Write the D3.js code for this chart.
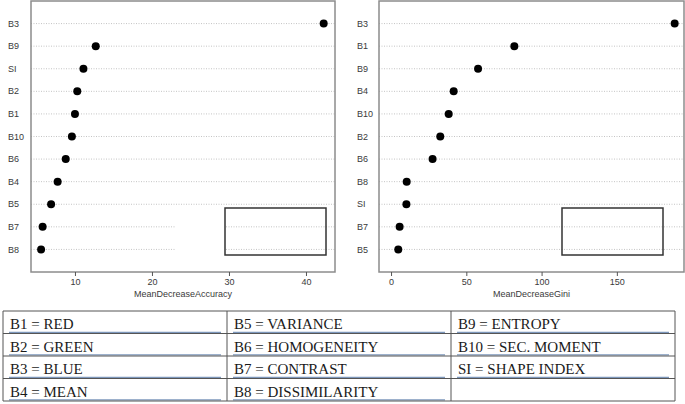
<!DOCTYPE html>
<html><head><meta charset="utf-8">
<script src="https://cdn.jsdelivr.net/npm/d3@7"></script>
<style>
html,body{margin:0;padding:0;background:#fff;}
svg{display:block;}
</style></head>
<body>
<svg id="c" width="685" height="404"></svg>
<script>
// ---- data ----
const accLabels = ["B3","B9","SI","B2","B1","B10","B6","B4","B5","B7","B8"];
const accValues = [42.3,12.7,11.1,10.3,10.0,9.6,8.8,7.75,6.9,5.8,5.6];
const accTicks = [10,20,30,40];
const accTitle = "MeanDecreaseAccuracy";

const giniLabels = ["B3","B1","B9","B4","B10","B2","B6","B8","SI","B7","B5"];
const giniValues = [188.4,81.9,57.8,41.6,38.3,32.7,27.6,10.4,10.2,5.7,4.8];
const giniTicks = [0,50,100,150];
const giniTitle = "MeanDecreaseGini";

const tableCol1 = ["B1 = RED","B2 = GREEN","B3 = BLUE","B4 = MEAN"];
const tableCol2 = ["B5 = VARIANCE","B6 = HOMOGENEITY","B7 = CONTRAST","B8 = DISSIMILARITY"];
const tableCol3 = ["B9 = ENTROPY","B10 = SEC. MOMENT","SI = SHAPE INDEX",""];

const svg = d3.select("#c");

function panel(opts){
  const {labels, values, ticks, title, x0, x1, dom, labelX, box, erase} = opts;
  const top = 1, bottom = 272;
  const n = labels.length;
  const x = d3.scaleLinear().domain(dom).range([x0, x1]);
  const y = d3.scaleLinear().domain([0, n + 1]).range([bottom, top]);
  const g = svg.append("g");
  // grid lines
  g.selectAll("line.grid").data(labels).enter().append("line")
    .attr("x1", x0).attr("x2", x1)
    .attr("y1", (d,i)=>y(n-i)).attr("y2", (d,i)=>y(n-i))
    .attr("stroke", "#c4c4c4").attr("stroke-width", 1)
    .attr("stroke-dasharray", "1,1.5");
  if (erase) {
    g.append("rect").attr("x", erase[0]).attr("y", erase[1])
      .attr("width", erase[2]).attr("height", erase[3]).attr("fill", "#fff");
  }
  // dots
  g.selectAll("circle").data(values).enter().append("circle")
    .attr("cx", d=>x(d)).attr("cy", (d,i)=>y(n-i)).attr("r", 4).attr("fill", "#000");
  // labels
  g.selectAll("text.lab").data(labels).enter().append("text")
    .attr("x", labelX).attr("y", (d,i)=>y(n-i)).attr("dy", "0.35em")
    .attr("font-family", "Liberation Sans, Arial, sans-serif").attr("font-size", 9)
    .attr("fill", "#3a3a3a").text(d=>d);
  // legend box
  g.append("rect").attr("x", box[0]).attr("y", box[1]).attr("width", box[2]).attr("height", box[3])
    .attr("fill", "none").attr("stroke", "#333").attr("stroke-width", 1.5);
  // frame
  g.append("rect").attr("x", x0).attr("y", top).attr("width", x1 - x0).attr("height", bottom - top)
    .attr("fill", "none").attr("stroke", "#8c8c8c").attr("stroke-width", 1.5);
  // axis
  const ax = g.append("g").attr("transform", `translate(0,${bottom})`)
    .call(d3.axisBottom(x).tickValues(ticks).tickSize(4).tickPadding(3).tickFormat(d3.format("d")));
  ax.select(".domain").remove();
  ax.selectAll("line").attr("stroke", "#555");
  ax.selectAll("text").attr("font-family", "Liberation Sans, Arial, sans-serif").attr("font-size", 9).attr("fill", "#3a3a3a");
  g.append("text").attr("x", (x0 + x1) / 2).attr("y", 297).attr("text-anchor", "middle")
    .attr("font-family", "Liberation Sans, Arial, sans-serif").attr("font-size", 9).attr("fill", "#3a3a3a")
    .text(title);
}

panel({labels: accLabels, values: accValues, ticks: accTicks, title: accTitle,
  x0: 31, x1: 335, dom: [4.29, 43.77], labelX: 8,
  box: [225, 208, 101, 47], erase: [175, 215, 50, 45]});
panel({labels: giniLabels, values: giniValues, ticks: giniTicks, title: giniTitle,
  x0: 379, x1: 684, dom: [-8, 194.6], labelX: 357,
  box: [562, 208, 101, 47], erase: null});

// ---- table ----
const cols = [tableCol1, tableCol2, tableCol3];
const colX = [3, 227, 451, 675];
const rowY = [311, 333.5, 356, 378.5, 401];
const tg = svg.append("g");
cols.forEach((col, ci) => {
  col.forEach((txt, ri) => {
    if (txt) {
      tg.append("line")
        .attr("x1", colX[ci] + 6).attr("x2", colX[ci + 1] - 6)
        .attr("y1", rowY[ri + 1] - 1.2).attr("y2", rowY[ri + 1] - 1.2)
        .attr("stroke", "#7d97bb").attr("stroke-width", 1.3);
      tg.append("text").attr("x", colX[ci] + 7).attr("y", rowY[ri + 1] - 4.5)
        .attr("font-family", "Liberation Serif, 'Times New Roman', serif").attr("font-size", 15)
        .attr("fill", "#1a1a1a").text(txt);
    }
  });
});
rowY.forEach(yv => {
  tg.append("line").attr("x1", colX[0]).attr("x2", colX[3]).attr("y1", yv).attr("y2", yv)
    .attr("stroke", "#555").attr("stroke-width", 1);
});
colX.forEach(xv => {
  tg.append("line").attr("x1", xv).attr("x2", xv).attr("y1", rowY[0]).attr("y2", rowY[4])
    .attr("stroke", "#555").attr("stroke-width", 1);
});
</script>
</body></html>
